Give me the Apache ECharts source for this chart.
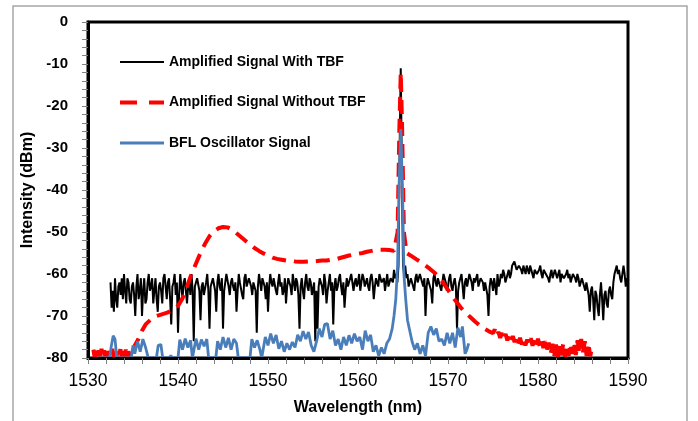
<!DOCTYPE html>
<html>
<head>
<meta charset="utf-8">
<script src="https://cdn.jsdelivr.net/npm/echarts@6/dist/echarts.min.js"></script>
<style>
  html, body { margin: 0; padding: 0; background: #fff; }
  #chart { width: 698px; height: 421px; }
</style>
</head>
<body>
<div id="chart"></div>
<script>
// 数据：估计值
var xTicks = [1530, 1540, 1550, 1560, 1570, 1580, 1590];
var yTicks = [-80, -70, -60, -50, -40, -30, -20, -10, 0];
var seriesNames = ['Amplified Signal With TBF', 'Amplified Signal Without TBF', 'BFL Oscillator Signal'];

// 黑线：从 1532.5 nm 起，每 0.125 nm 一个点（每行 1 nm）
var tbfStart = 1532.5;
var tbfStep = 0.125;
var tbfValues = [
  -62, -68, -64, -69,
  -61, -66, -68, -63, -62, -65, -61, -66,
  -60, -64, -67, -61, -62, -66, -67, -63,
  -62, -65, -70, -63, -60, -66, -64, -61,
  -70, -64, -61, -67, -66, -62, -60, -64,
  -63, -61, -67, -64, -61, -66, -69, -63,
  -62, -64, -67, -61, -60, -63, -66, -62,
  -61, -66, -72, -63, -62, -60, -65, -62,
  -74, -65, -60, -63, -66, -62, -61, -64,
  -67, -63, -62, -65, -60, -64, -76, -63,
  -63, -61, -61, -64, -71, -63, -62, -65,
  -65, -62, -60, -64, -73, -63, -62, -61,
  -61, -64, -69, -62, -60, -63, -64, -61,
  -73, -64, -62, -60, -60, -63, -65, -62,
  -61, -63, -64, -62, -69, -64, -60, -62,
  -62, -65, -66, -61, -60, -63, -63, -61,
  -61, -63, -65, -62, -62, -64, -74, -63,
  -60, -62, -64, -61, -61, -63, -66, -62,
  -69, -63, -60, -62, -63, -61, -61, -64,
  -65, -62, -60, -63, -62, -65, -64, -61,
  -67, -63, -61, -62, -63, -65, -60, -62,
  -64, -61, -62, -65, -73, -63, -61, -64,
  -66, -62, -60, -63, -64, -61, -62, -65,
  -65, -62, -76, -64, -73, -63, -61, -62,
  -63, -65, -60, -62, -67, -64, -62, -60,
  -64, -62, -72, -63, -61, -64, -63, -61,
  -60, -63, -65, -62, -68, -64, -61, -63,
  -63, -61, -60, -62, -64, -62, -61, -63,
  -62, -60, -64, -62, -60, -61, -63, -62,
  -61, -63, -64, -61, -60, -62, -66, -63,
  -61, -62, -63, -60, -60, -62, -62, -61,
  -64, -62, -60, -63, -63, -61, -61, -62,
  -59, -61, -60, -62, -58, -30, -11, -35,
  -58, -60, -58, -61, -60, -63, -63, -61,
  -61, -63, -64, -61, -60, -62, -62, -60,
  -60, -62, -63, -61, -70, -63, -61, -62,
  -62, -64, -67, -61, -60, -62, -63, -61,
  -61, -63, -64, -62, -60, -61, -62, -64,
  -63, -61, -60, -63, -64, -62, -61, -63,
  -73, -64, -62, -61, -60, -63, -66, -62,
  -61, -63, -63, -60, -60, -62, -64, -61,
  -62, -61, -60, -63, -63, -61, -61, -62,
  -64, -62, -62, -65, -70, -63, -61, -62,
  -64, -61, -63, -65, -60, -63, -62, -60,
  -61, -59, -60, -62, -62, -60, -59, -61,
  -60, -58, -58, -57, -57, -59, -59, -58,
  -58, -59, -60, -58, -59, -60, -58, -59,
  -60, -58, -59, -60, -61, -59, -59, -60,
  -60, -59, -58, -60, -61, -59, -59, -60,
  -60, -61, -62, -60, -59, -61, -61, -59,
  -59, -61, -60, -59, -62, -60, -60, -61,
  -61, -60, -59, -61, -60, -62, -62, -60,
  -60, -61, -62, -60, -61, -63, -63, -61,
  -61, -63, -64, -62, -62, -65, -69, -64,
  -63, -66, -71, -64, -65, -68, -70, -65,
  -62, -66, -71, -65, -64, -67, -68, -64,
  -63, -65, -66, -62, -60, -59, -58, -60,
  -59, -61, -62, -60, -58, -60, -63, -61,
  -62
];

// 红色虚线 [波长, dBm]
var noTbfData = [
  [1530.6, -78], [1530.75, -80], [1530.9, -77.5], [1531.05, -79.8], [1531.2, -78], [1531.35, -80],
  [1531.5, -77.8], [1531.65, -79.5], [1531.8, -78.2], [1531.95, -80], [1532.1, -77.6], [1532.25, -79.6],
  [1532.4, -78.4], [1532.55, -80], [1532.7, -77.8], [1532.85, -79.7], [1533, -78], [1533.15, -80],
  [1533.3, -78.3], [1533.45, -79.6], [1533.6, -77.9], [1533.75, -80], [1533.9, -78.2], [1534.05, -79.7],
  [1534.2, -78], [1534.35, -80], [1534.5, -78.4], [1534.65, -79.6], [1534.8, -78], [1535, -78.5],
  [1535.2, -77], [1535.6, -75.5], [1536, -73.5], [1536.4, -72], [1537, -70.8], [1537.6, -70],
  [1538.2, -69.6], [1538.8, -69.2], [1539.4, -68.6], [1540, -67.6], [1540.5, -65.8], [1541, -63],
  [1541.5, -60], [1542, -57.5], [1542.5, -55], [1543, -52.8], [1543.5, -51], [1544, -49.8],
  [1544.5, -49.1], [1545, -48.8], [1545.5, -48.9], [1546, -49.4], [1546.5, -50.3], [1547, -51.2],
  [1547.5, -52.1], [1548, -52.9], [1548.5, -53.8], [1549, -54.5], [1549.5, -55.1], [1550, -55.6],
  [1550.5, -56.1], [1551, -56.4], [1551.5, -56.6], [1552, -56.8], [1552.5, -56.8], [1553, -57],
  [1553.5, -57.1], [1554, -57.1], [1554.5, -57], [1555, -57], [1555.5, -56.9], [1556, -56.8],
  [1556.5, -56.8], [1557, -56.6], [1557.5, -56.5], [1558, -56.2], [1558.5, -55.9], [1559, -55.6],
  [1559.5, -55.4], [1560, -55.2], [1560.5, -55], [1561, -54.7], [1561.5, -54.5], [1562, -54.3],
  [1562.5, -54.2], [1563, -54.2], [1563.5, -54.3], [1564, -54.5], [1564.4, -50], [1564.6, -25],
  [1564.75, -12], [1564.9, -25], [1565.1, -50], [1565.4, -55], [1566, -55.8], [1566.5, -56.5],
  [1567, -57.2], [1567.5, -58], [1568, -58.8], [1568.5, -59.7], [1569, -60.8], [1569.5, -62.2],
  [1570, -63.8], [1570.5, -65.4], [1571, -66.8], [1571.5, -68.2], [1572, -69.3], [1572.5, -70.3],
  [1573, -71.3], [1573.5, -72.2], [1574, -73], [1574.5, -73.6], [1575, -74.1],
  [1575.2, -73.2], [1575.4, -74.8], [1575.6, -73.8], [1575.8, -75.2], [1576, -74], [1576.2, -75.4],
  [1576.4, -74.3], [1576.6, -75.8], [1576.8, -74.6], [1577, -76], [1577.2, -74.8], [1577.4, -76.2],
  [1577.6, -75], [1577.8, -76.5], [1578, -75.2], [1578.2, -76.8], [1578.4, -75.4], [1578.6, -77],
  [1578.8, -75.6], [1579, -76.8], [1579.2, -75.3], [1579.4, -77.1], [1579.6, -75.5], [1579.8, -77],
  [1580, -75.4], [1580.2, -77.3], [1580.4, -75.8], [1580.6, -77.6], [1580.8, -76], [1581, -78],
  [1581.2, -76.3], [1581.4, -79.2], [1581.6, -76.6], [1581.8, -79.6], [1582, -76.8], [1582.2, -79.8],
  [1582.4, -77], [1582.6, -79.4], [1582.8, -76.6], [1583, -79.7], [1583.2, -77], [1583.4, -79.5],
  [1583.6, -76.5], [1583.8, -79], [1584, -76.2], [1584.2, -79.3], [1584.4, -75.8], [1584.6, -79],
  [1584.8, -75.5], [1585, -78.6], [1585.2, -76], [1585.4, -79.5], [1585.6, -76.4], [1585.8, -79.6],
  [1586, -77.5]
];

// 蓝线 [波长, dBm]
var bflData = [
  [1531, -80], [1532.4, -80], [1532.6, -77], [1532.8, -74.7], [1533, -75.5], [1533.2, -80],
  [1534.8, -80], [1535, -77], [1535.2, -79], [1535.5, -76], [1535.8, -78.5], [1536.1, -75.5],
  [1536.4, -77.5], [1536.7, -80], [1537.6, -80], [1537.8, -77], [1538.1, -76.8], [1538.3, -80],
  [1539, -80], [1539.2, -79.4], [1539.4, -80], [1540, -80], [1540.2, -75.6], [1540.5, -78],
  [1540.8, -75.4], [1541.1, -77.5], [1541.4, -75.8], [1541.6, -80], [1542, -75.4], [1542.3, -78],
  [1542.6, -75.6], [1542.9, -77.2], [1543.2, -75.5], [1543.4, -80], [1544.2, -80], [1544.4, -76],
  [1544.7, -78], [1545, -75], [1545.3, -77.5], [1545.6, -75.2], [1545.9, -78], [1546.2, -75.5],
  [1546.5, -76.5], [1546.7, -80], [1548, -80], [1548.2, -75.5], [1548.5, -77.5], [1548.8, -75.8],
  [1549.1, -78], [1549.3, -80], [1549.5, -80], [1549.7, -75], [1550, -77], [1550.3, -74.2],
  [1550.6, -76.5], [1550.9, -74.5], [1551.2, -77.8], [1551.5, -76], [1551.8, -78.5], [1552.1, -76.5],
  [1552.4, -78], [1552.7, -76.2], [1553, -77.5], [1553.3, -74.5], [1553.6, -76], [1553.9, -73.6],
  [1554.2, -75.5], [1554.5, -73.8], [1554.8, -77], [1555.1, -78.5], [1555.4, -76], [1555.7, -73],
  [1556, -75], [1556.3, -72], [1556.6, -71.8], [1556.9, -75.5], [1557.2, -73.5], [1557.5, -77],
  [1557.8, -75.5], [1558.1, -78], [1558.4, -75], [1558.7, -77], [1559, -74.6], [1559.3, -76.5],
  [1559.6, -74.2], [1559.9, -76], [1560.2, -75], [1560.5, -78], [1560.8, -73.5], [1561.1, -76],
  [1561.4, -74.5], [1561.7, -78.5], [1562, -77], [1562.3, -79.5], [1562.6, -77.5], [1562.9, -79],
  [1563.2, -76.5], [1563.5, -75.5], [1563.8, -73], [1564, -70], [1564.2, -66], [1564.4, -58],
  [1564.55, -40], [1564.75, -25.5], [1564.95, -40], [1565.1, -60], [1565.3, -66], [1565.5, -71],
  [1565.8, -74], [1566, -76], [1566.3, -78], [1566.6, -76.5], [1566.9, -79], [1567.2, -77],
  [1567.5, -79.5], [1567.8, -74], [1568.1, -72.5], [1568.4, -74.5], [1568.7, -73], [1569, -76],
  [1569.3, -75.5], [1569.6, -77], [1569.9, -74], [1570.2, -76.5], [1570.5, -74], [1570.8, -77.5],
  [1571.1, -72.8], [1571.4, -75], [1571.6, -72.5], [1571.9, -79], [1572.1, -78], [1572.3, -76.5]
];

var tbfData = tbfValues.map(function (v, i) {
  return [tbfStart + i * tbfStep, v];
});

var font = 'Liberation Sans';
var myChart = echarts.init(document.getElementById('chart'));

var option = {
  animation: false,
  backgroundColor: '#fff',
  graphic: [{
    type: 'rect',
    shape: { x: 13, y: 6, width: 674, height: 440 },
    style: { fill: 'none', stroke: '#a6a6a6', lineWidth: 1.5 },
    z: -1
  }],
  grid: {
    left: 88, right: 70, top: 22, bottom: 63,
    show: true, borderColor: '#000', borderWidth: 3
  },
  legend: {
    orient: 'vertical',
    left: 118, top: 55, padding: 0,
    itemWidth: 44, itemHeight: 14, itemGap: 26.5,
    itemStyle: { opacity: 0 },
    textStyle: { fontFamily: font, fontWeight: 'bold', fontSize: 14, color: '#000' },
    data: [
      { name: seriesNames[0], lineStyle: { width: 1.8 } },
      { name: seriesNames[1], lineStyle: { width: 4, type: [17, 12] } },
      { name: seriesNames[2], lineStyle: { width: 3 } }
    ]
  },
  xAxis: {
    type: 'value',
    min: xTicks[0], max: xTicks[xTicks.length - 1], interval: 10,
    name: 'Wavelength (nm)', nameLocation: 'middle', nameGap: 42,
    nameTextStyle: { fontFamily: font, fontWeight: 'bold', fontSize: 16, color: '#000' },
    z: 5,
    axisLine: { onZero: false, lineStyle: { color: '#000', width: 3 } },
    axisTick: { show: true, length: 6, lineStyle: { color: '#808080', width: 1 } },
    minorTick: { show: true, splitNumber: 5, length: 6, lineStyle: { color: '#808080', width: 1 } },
    splitLine: { show: false },
    axisLabel: {
      fontFamily: font, fontSize: 17.5, color: '#000', margin: 14,
      formatter: function (v) { return String(v); }
    }
  },
  yAxis: {
    type: 'value',
    min: yTicks[0], max: yTicks[yTicks.length - 1], interval: 10,
    name: 'Intensity (dBm)', nameLocation: 'middle', nameGap: 50,
    nameTextStyle: { fontFamily: font, fontWeight: 'bold', fontSize: 16, color: '#000' },
    z: 5,
    axisLine: { show: true, onZero: false, lineStyle: { color: '#000', width: 3 } },
    axisTick: { show: true, length: 6, lineStyle: { color: '#808080', width: 1 } },
    minorTick: { show: true, splitNumber: 5, length: 6, lineStyle: { color: '#808080', width: 1 } },
    splitLine: { show: false },
    axisLabel: { fontFamily: font, fontWeight: 'bold', fontSize: 15, color: '#000', margin: 20 }
  },
  series: [
    {
      name: seriesNames[0], type: 'line', data: tbfData,
      symbol: 'none', color: '#000',
      lineStyle: { color: '#000', width: 2 }
    },
    {
      name: seriesNames[1], type: 'line', data: noTbfData,
      symbol: 'none', color: '#ff0000',
      lineStyle: { color: '#ff0000', width: 4, type: [14, 8] }
    },
    {
      name: seriesNames[2], type: 'line', data: bflData,
      symbol: 'none', color: '#4a7ebb',
      lineStyle: { color: '#4a7ebb', width: 2.8 }
    }
  ]
};

myChart.setOption(option);
</script>
</body>
</html>
